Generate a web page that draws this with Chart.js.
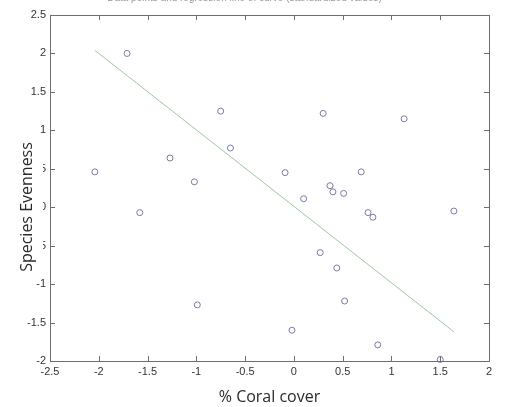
<!DOCTYPE html>
<html>
<head>
<meta charset="utf-8">
<title>Species evenness vs coral cover</title>
<style>
  body { margin: 0; background: #fff; }
  #wrap { width: 506px; height: 407px; position: relative; }
</style>
</head>
<body>
<div id="wrap"><canvas id="myChart"></canvas></div>
<script src="https://cdn.jsdelivr.net/npm/chart.js@4/dist/chart.umd.min.js"></script>
<script>
// data (standardized values)
const coralCover = [-2.04, -1.71, -1.58, -1.27, -1.02, -0.99, -0.75, -0.65, -0.09, -0.02, 0.10, 0.27, 0.30,
                    0.37, 0.40, 0.44, 0.51, 0.52, 0.69, 0.76, 0.81, 0.86, 1.13, 1.50, 1.64];
const evenness   = [0.46, 2.00, -0.07, 0.64, 0.33, -1.27, 1.25, 0.77, 0.45, -1.60, 0.11, -0.59, 1.22,
                    0.28, 0.20, -0.79, 0.18, -1.22, 0.46, -0.07, -0.13, -1.79, 1.15, -1.98, -0.05];
// regression line end points
const fitX = [-2.04, 1.64];
const fitY = [2.04, -1.62];
const xTicks = [-2.5, -2, -1.5, -1, -0.5, 0, 0.5, 1, 1.5, 2];
const yTicks = [-2, -1.5, -1, -0.5, 0, 0.5, 1, 1.5, 2, 2.5];

const titleText = 'Data points and regression line of curve (standardized values)';
const xTitle = '% Coral cover';
const yTitle = 'Species Evenness';

const pts = coralCover.map((x, i) => ({ x: x, y: evenness[i] }));
const fit = fitX.map((x, i) => ({ x: x, y: fitY[i] }));

// matlab style box with inward ticks, and the y title sitting over the labels
const boxPlugin = {
  id: 'box',
  afterDraw(chart) {
    const ctx = chart.ctx;
    const a = chart.chartArea;
    const xs = chart.scales.x, ys = chart.scales.y;
    ctx.save();
    ctx.strokeStyle = '#6e6e6e';
    ctx.lineWidth = 1;
    ctx.beginPath();
    xTicks.forEach(v => {
      const px = Math.round(xs.getPixelForValue(v)) + 0.5;
      ctx.moveTo(px, a.bottom); ctx.lineTo(px, a.bottom - 5);
      ctx.moveTo(px, a.top); ctx.lineTo(px, a.top + 5);
    });
    yTicks.forEach(v => {
      const py = Math.round(ys.getPixelForValue(v)) + 0.5;
      ctx.moveTo(a.left, py); ctx.lineTo(a.left + 5, py);
      ctx.moveTo(a.right, py); ctx.lineTo(a.right - 5, py);
    });
    ctx.stroke();
    ctx.strokeRect(Math.round(a.left) + 0.5, Math.round(a.top) + 0.5,
                   Math.round(a.right - a.left), Math.round(a.bottom - a.top));

    // y axis title with its white box
    ctx.fillStyle = '#fff';
    ctx.fillRect(8, 136, 35, 142);
    ctx.translate(27, 207);
    ctx.rotate(-Math.PI / 2);
    ctx.fillStyle = '#2a2a2a';
    ctx.font = '16px "Open Sans"';
    ctx.textAlign = 'center';
    ctx.textBaseline = 'middle';
    ctx.fillText(yTitle, 0, 0);
    ctx.restore();
  }
};

const ctx = document.getElementById('myChart').getContext('2d');
const chart = new Chart(ctx, {
  type: 'scatter',
  data: {
    datasets: [{
      label: 'data',
      data: pts,
      pointStyle: 'circle',
      pointRadius: 3,
      pointHoverRadius: 3,
      borderColor: '#7a7aa6',
      backgroundColor: 'rgba(0,0,0,0)',
      borderWidth: 1,
      clip: false
    }, {
      type: 'line',
      label: 'fit',
      data: fit,
      borderColor: '#9cc89c',
      borderWidth: 1,
      pointRadius: 0,
      fill: false
    }]
  },
  options: {
    responsive: true,
    maintainAspectRatio: false,
    animation: false,
    layout: { padding: { left: 0, right: 17, top: 0, bottom: 0 } },
    plugins: {
      legend: { display: false },
      tooltip: { enabled: false },
      title: {
        display: true,
        text: titleText,
        color: '#999',
        font: { family: 'Liberation Sans', size: 10, weight: 'normal' },
        padding: { top: -8, bottom: 11 }
      }
    },
    scales: {
      x: {
        type: 'linear',
        min: -2.5, max: 2,
        afterBuildTicks(s) { s.ticks = xTicks.map(v => ({ value: v })); },
        afterFit(s) { s.height = 46; },
        grid: { display: false, drawTicks: false },
        border: { display: false },
        ticks: {
          padding: 4,
          color: '#333',
          font: { family: 'Liberation Sans', size: 11 },
          maxRotation: 0,
          callback: v => String(v)
        },
        title: {
          display: true,
          text: xTitle,
          color: '#2a2a2a',
          font: { family: 'Open Sans', size: 16 },
          padding: { top: 5, bottom: 0 }
        }
      },
      y: {
        type: 'linear',
        min: -2, max: 2.5,
        afterBuildTicks(s) { s.ticks = yTicks.map(v => ({ value: v })); },
        afterFit(s) { s.width = 50; },
        grid: { display: false, drawTicks: false },
        border: { display: false },
        ticks: {
          padding: 4,
          color: '#333',
          font: { family: 'Liberation Sans', size: 11 },
          callback: v => String(v)
        }
      }
    }
  },
  plugins: [boxPlugin]
});
</script>
</body>
</html>
